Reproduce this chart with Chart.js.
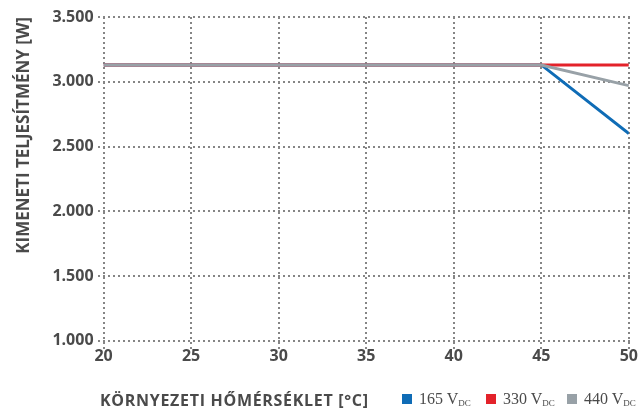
<!DOCTYPE html>
<html>
<head>
<meta charset="utf-8">
<script src="https://cdn.jsdelivr.net/npm/chart.js@4.4.1/dist/chart.umd.min.js"></script>
<style>
  html, body { margin: 0; padding: 0; background: #fff; }
  #wrap { position: relative; width: 638px; height: 412px; }
  #bottom { position: absolute; left: 0; top: 388px; width: 638px; height: 24px; }
  #xtitle { position: absolute; left: 100px; top: 1px; font: bold 16px "Open Sans", sans-serif; color: #4a4a4a; letter-spacing: 0.7px; }
  .leg { position: absolute; top: 2px; font: 16px "Liberation Serif", serif; color: #4a4a4a; white-space: nowrap; }
  .leg i { display: inline-block; width: 10px; height: 10px; margin-right: 7px; vertical-align: 0px; }
  .leg sub { font-size: 9px; vertical-align: -2px; }
</style>
</head>
<body>
<div id="wrap">
  <canvas id="chart" width="638" height="412"></canvas>
  <div id="bottom">
    <div id="xtitle"></div>
    <div id="legend"></div>
  </div>
</div>
<script>
// ambient temperature [°C]
var temps = [20, 45, 50]
// output power [W] per DC input voltage
var p165 = [3130, 3130, 2600]
var p330 = [3130, 3130, 3130]
var p440 = [3130, 3130, 2970]

var yTicks = [1000, 1500, 2000, 2500, 3000, 3500]
var xTicks = [20, 25, 30, 35, 40, 45, 50]

// order: lower is drawn on top, the grey line covers the others on the flat part
var series = [
  { label: '165', unit: 'DC', data: p165, color: '#0f6cb6', order: 2 },
  { label: '330', unit: 'DC', data: p330, color: '#e3222a', order: 1 },
  { label: '440', unit: 'DC', data: p440, color: '#98a1a7', order: 0 }
]

var xTitle = 'KÖRNYEZETI HŐMÉRSÉKLET [°C]'
var yTitle = 'KIMENETI TELJESÍTMÉNY [W]'

var textColor = '#4a4a4a'
var gridColor = '#858585'

function toPoints(values) {
  return values.map((v, i) => ({ x: temps[i], y: v }))
}

// thousands separator is a dot
function fmt(v) {
  return String(v).replace(/\B(?=(\d{3})+(?!\d))/g, '.')
}

var legendPos = [402, 486, 567]
document.getElementById('xtitle').textContent = xTitle
var legendEl = document.getElementById('legend')
series.forEach((s, i) => {
  var d = document.createElement('div')
  d.className = 'leg'
  d.style.left = legendPos[i] + 'px'
  d.innerHTML = '<i style="background:' + s.color + '"></i>' + s.label + ' V<sub>' + s.unit + '</sub>'
  legendEl.appendChild(d)
})

// dotted grid: small square dots every 5px along each tick line
var DOT = 2
var STEP = 5
var dottedGrid = {
  id: 'dottedGrid',
  beforeDatasetsDraw: (chart) => {
    var ctx = chart.ctx
    var area = chart.chartArea
    var xs = chart.scales.x
    var ys = chart.scales.y
    ctx.save()
    ctx.fillStyle = gridColor
    xs.ticks.forEach((t) => {
      var px = Math.round(xs.getPixelForValue(t.value)) - 1
      for (var py = Math.round(area.top); py <= area.bottom + 7; py += STEP) {
        ctx.fillRect(px, py, DOT, DOT)
      }
    })
    ys.ticks.forEach((t) => {
      var py = Math.round(ys.getPixelForValue(t.value)) - 1
      for (var px = Math.round(area.right) - 1; px >= area.left - 10; px -= STEP) {
        ctx.fillRect(px, py, DOT, DOT)
      }
    })
    ctx.restore()
  }
}

var tickFont = { family: 'Open Sans', weight: 'bold', size: 16 }
var noGrid = { color: 'rgba(0,0,0,0)', tickColor: 'rgba(0,0,0,0)' }

var canvas = document.getElementById('chart')
new Chart(canvas, {
  type: 'line',
  data: {
    datasets: series.map((s) => ({
      label: s.label + ' V' + s.unit,
      data: toPoints(s.data),
      borderColor: s.color,
      backgroundColor: s.color,
      borderWidth: 3,
      pointRadius: 0,
      tension: 0,
      order: s.order
    }))
  },
  options: {
    responsive: false,
    animation: false,
    layout: { padding: { top: 17, right: 8, bottom: 46, left: 14 } },
    plugins: {
      legend: { display: false },
      tooltip: { enabled: false }
    },
    scales: {
      x: {
        type: 'linear',
        min: 20,
        max: 50,
        afterBuildTicks: (axis) => { axis.ticks = xTicks.map((v) => ({ value: v })) },
        grid: Object.assign({ tickLength: 6 }, noGrid),
        border: { display: false },
        ticks: { color: textColor, font: tickFont, padding: 0, maxRotation: 0 }
      },
      y: {
        min: 1000,
        max: 3500,
        afterBuildTicks: (axis) => { axis.ticks = yTicks.map((v) => ({ value: v })) },
        grid: Object.assign({ tickLength: 8 }, noGrid),
        border: { display: false },
        title: {
          display: true,
          text: yTitle,
          align: 'end',
          color: textColor,
          font: { family: 'Open Sans', weight: 'bold', size: 17 },
          padding: { top: 0, bottom: 16 }
        },
        ticks: { color: textColor, font: tickFont, padding: 2, callback: (v) => fmt(v) }
      }
    }
  },
  plugins: [dottedGrid]
})
</script>
</body>
</html>
